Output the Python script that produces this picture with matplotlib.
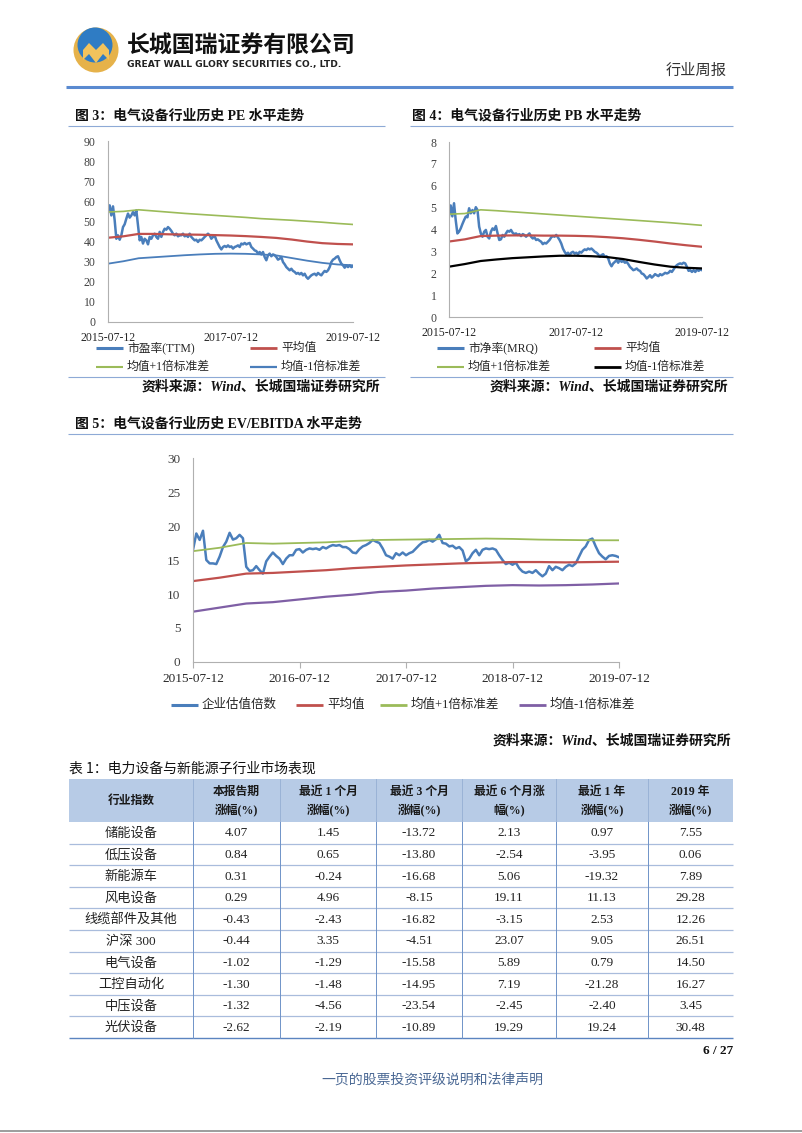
import numpy as np
import pandas as pd
import matplotlib
matplotlib.use("Agg")
import matplotlib.pyplot as plt
from matplotlib.patches import Rectangle, Circle, Polygon

# ---- data ----
START, END = "2015-07-12", "2019-07-12"

pe_ttm = [55.5, 58.0, 53.0, 57.5, 50.6, 41.4, 43.1, 40.9, 43.1, 47.2, 48.6, 51.4, 53.9, 51.9, 53.0, 54.7,
          53.0, 55.5, 48.1, 40.6, 42.3, 39.0, 41.4, 40.6, 38.6, 42.3, 41.4, 43.1, 43.9, 42.3, 41.4, 44.8,
          42.3, 44.8, 46.4, 45.9, 47.2, 46.4, 45.3, 43.9, 43.1, 43.9, 42.6, 43.1, 43.1, 43.9, 42.6, 43.1,
          42.3, 43.9, 42.3, 41.4, 40.6, 40.9, 39.8, 40.9, 40.6, 41.4, 42.3, 43.1, 43.9, 43.1, 41.4, 42.3,
          43.1, 40.6, 39.0, 37.3, 36.1, 37.3, 37.8, 37.3, 38.1, 37.3, 37.6, 36.5, 37.3, 37.6, 38.1, 37.3,
          39.0, 38.6, 39.3, 38.6, 39.0, 39.3, 37.3, 36.5, 35.6, 35.3, 34.0, 34.8, 33.6, 34.8, 32.3, 30.7,
          33.2, 34.0, 32.7, 33.6, 33.2, 32.3, 31.0, 31.5, 32.3, 29.8, 28.7, 27.3, 26.5, 25.7, 26.5, 25.4,
          24.9, 24.0, 24.4, 23.7, 24.4, 23.2, 24.0, 22.4, 21.5, 22.4, 23.2, 23.7, 24.0, 23.2, 24.4, 23.7,
          23.2, 24.4, 25.4, 24.9, 25.7, 27.3, 29.8, 31.0, 31.5, 32.3, 32.7, 30.7, 29.0, 28.2, 27.0, 28.2,
          27.3, 28.2, 27.3, 27.7]
pe_up = [54.7, 55.0, 55.8, 55.2, 54.6, 54.0, 53.5, 53.0, 52.5, 52.0, 51.4, 51.0, 50.6, 50.1, 49.6, 49.0, 48.5]
pe_mean = [41.9, 42.6, 43.8, 43.8, 43.6, 43.5, 43.4, 43.2, 43.0, 42.7, 42.3, 41.8, 41.0, 40.0, 39.2, 38.8, 38.6]
pe_low = [29.0, 30.2, 31.7, 32.2, 32.7, 33.2, 33.6, 33.9, 34.0, 33.9, 33.6, 33.1, 31.8, 30.5, 29.4, 28.6, 28.2]

pb_mrq = [4.6, 5.1, 4.6, 5.2, 4.43, 3.82, 3.9, 4.05, 4.25, 4.43, 4.59, 4.56, 4.97, 4.74, 4.89, 4.74,
          5.02, 4.89, 4.13, 3.82, 3.67, 3.9, 3.98, 3.67, 3.59, 3.9, 4.05, 3.98, 4.16, 3.82, 3.52, 3.55,
          3.75, 3.67, 3.82, 3.94, 3.9, 3.98, 3.85, 3.79, 3.82, 3.75, 3.79, 3.7, 3.79, 3.75, 3.67, 3.75,
          3.82, 3.67, 3.59, 3.64, 3.52, 3.55, 3.49, 3.44, 3.33, 3.39, 3.36, 3.44, 3.52, 3.64, 3.7, 3.67,
          3.75, 3.64, 3.52, 3.36, 3.13, 2.98, 2.87, 2.94, 2.83, 2.94, 2.98, 2.9, 2.94, 2.87, 2.98, 2.94,
          3.03, 3.09, 3.06, 3.13, 3.09, 3.13, 3.06, 2.98, 2.94, 2.87, 2.75, 2.83, 2.87, 2.75, 2.78, 2.68,
          2.45, 2.32, 2.45, 2.52, 2.6, 2.48, 2.63, 2.52, 2.57, 2.48, 2.52, 2.42, 2.29, 2.22, 2.14, 2.17,
          2.22, 2.14, 2.11, 1.99, 1.96, 1.87, 1.76, 1.83, 1.91, 1.8, 1.87, 1.96, 1.91, 1.87, 1.96, 1.91,
          1.96, 2.02, 1.99, 2.02, 2.11, 2.06, 2.17, 2.29, 2.37, 2.42, 2.45, 2.42, 2.48, 2.45, 2.29, 2.11,
          2.14, 2.06, 2.14, 2.06, 2.17, 2.11, 2.17, 2.14]
pb_up = [4.70, 4.73, 4.90, 4.86, 4.81, 4.76, 4.71, 4.66, 4.61, 4.56, 4.51, 4.46, 4.41, 4.36, 4.31, 4.25, 4.19]
pb_mean = [3.45, 3.55, 3.70, 3.72, 3.73, 3.73, 3.72, 3.72, 3.71, 3.69, 3.65, 3.60, 3.53, 3.45, 3.36, 3.28, 3.21]
pb_low = [2.30, 2.42, 2.56, 2.63, 2.69, 2.73, 2.77, 2.80, 2.80, 2.78, 2.74, 2.65, 2.52, 2.40, 2.30, 2.25, 2.22]

ev_ebitda = [16.5, 18.9, 17.95, 19.3, 15.0, 14.5, 14.5, 14.4, 15.5, 16.9, 17.7, 19.0, 18.0, 18.2, 18.7, 18.2,
             14.0, 13.4, 13.5, 14.1, 13.5, 13.0, 14.8, 15.5, 16.1, 15.6, 15.2, 14.4, 15.2, 15.7, 15.7, 16.5,
             16.6, 16.1, 16.5, 16.7, 16.6, 16.7, 16.5, 16.9, 16.7, 17.0, 17.2, 17.1, 17.2, 16.9, 16.9, 16.6,
             16.1, 16.0, 16.6, 17.0, 17.2, 17.5, 17.95, 17.7, 17.5, 16.7, 15.7, 15.5, 15.2, 16.0, 15.7, 16.1,
             15.7, 16.0, 16.2, 16.7, 17.2, 17.6, 17.7, 17.95, 17.7, 18.05, 18.7, 17.5, 17.4, 17.0, 17.1, 16.7,
             16.9, 16.4, 14.8, 15.2, 16.0, 16.5, 15.7, 16.5, 16.7, 16.6, 16.7, 16.5, 15.7, 15.0, 14.4, 14.6,
             14.3, 14.6, 13.8, 13.3, 13.1, 13.3, 13.1, 13.5, 13.0, 12.6, 13.0, 14.1, 13.5, 14.0, 13.8, 13.5,
             14.0, 14.3, 14.1, 14.5, 15.5, 16.5, 17.0, 17.95, 18.15, 17.0, 16.0, 15.5, 15.1, 15.6, 15.7, 15.6,
             15.4]
ev_up = [16.3, 16.8, 17.5, 17.4, 17.5, 17.6, 17.8, 17.95, 18.0, 18.05, 18.1, 18.15, 18.1, 18.0, 17.95, 17.9, 17.9]
ev_mean = [11.9, 12.4, 13.0, 13.1, 13.3, 13.5, 13.8, 14.0, 14.2, 14.35, 14.5, 14.6, 14.7, 14.7, 14.65, 14.7, 14.75]
ev_low = [7.4, 8.0, 8.6, 8.8, 9.2, 9.6, 9.9, 10.3, 10.5, 10.8, 11.0, 11.2, 11.3, 11.25, 11.3, 11.4, 11.55]

table_header = ["行业指数", "本报告期\n涨幅(%)", "最近 1 个月\n涨幅(%)", "最近 3 个月\n涨幅(%)",
                "最近 6 个月涨\n幅(%)", "最近 1 年\n涨幅(%)", "2019 年\n涨幅(%)"]
sectors = ["储能设备", "低压设备", "新能源车", "风电设备", "线缆部件及其他", "沪深 300",
           "电气设备", "工控自动化", "中压设备", "光伏设备"]
chg_week = ["4.07", "0.84", "0.31", "0.29", "-0.43", "-0.44", "-1.02", "-1.30", "-1.32", "-2.62"]
chg_1m = ["1.45", "0.65", "-0.24", "4.96", "-2.43", "3.35", "-1.29", "-1.48", "-4.56", "-2.19"]
chg_3m = ["-13.72", "-13.80", "-16.68", "-8.15", "-16.82", "-4.51", "-15.58", "-14.95", "-23.54", "-10.89"]
chg_6m = ["2.13", "-2.54", "5.06", "19.11", "-3.15", "23.07", "5.89", "7.19", "-2.45", "19.29"]
chg_1y = ["0.97", "-3.95", "-19.32", "11.13", "2.53", "9.05", "0.79", "-21.28", "-2.40", "19.24"]
chg_ytd = ["7.55", "0.06", "7.89", "29.28", "12.26", "26.51", "14.50", "16.27", "3.45", "30.48"]

# ---- style ----
SERIF = ['Liberation Serif', 'Noto Sans CJK SC']
SANS = ['Noto Sans CJK SC', 'DejaVu Sans']
plt.rcParams['font.family'] = SERIF

BLUE, RED, GREEN, PURPLE = '#4a7ebb', '#c0504d', '#9bbb59', '#7f5fa5'
LINE = '#8eaad6'

W, H = 802, 1133
fig = plt.figure(figsize=(W / 100, H / 100), dpi=100)
bg = fig.add_axes([0, 0, 1, 1])
bg.set_xlim(0, W)
bg.set_ylim(H, 0)
bg.axis('off')


def axes_px(l, t, r, b):
    return fig.add_axes([l / W, 1 - b / H, (r - l) / W, (b - t) / H])


def hline(x0, x1, y, color=LINE, lw=0.8):
    bg.plot([x0, x1], [y, y], color=color, lw=lw, solid_capstyle='butt')


def draw_chart(box, lines, ylim, yticks, xticks, fs, tick_len=0):
    ax = axes_px(*box)
    ax.patch.set_alpha(0)
    for vals, color, lw in lines:
        dates = pd.date_range(START, END, periods=len(vals))
        ax.plot(dates, vals, color=color, lw=lw)
    ax.set_xlim(pd.Timestamp(START), pd.Timestamp(END))
    ax.set_ylim(*ylim)
    ax.set_yticks(yticks)
    ax.set_xticks([pd.Timestamp(d) for d in xticks])
    ax.set_xticklabels(xticks)
    for s in ['top', 'right']:
        ax.spines[s].set_visible(False)
    for s in ['left', 'bottom']:
        ax.spines[s].set_color('#b0b0b0')
        ax.spines[s].set_linewidth(0.8)
    ax.tick_params(axis='y', length=0, pad=9, labelsize=fs, labelcolor='#404040')
    ax.tick_params(axis='x', length=tick_len, pad=7 - tick_len * 0.7, labelsize=fs,
                   labelcolor='#262626', color='#b0b0b0')
    return ax


def legend_item(x, y, color, label, lw=1.6, fs=8.5):
    bg.plot([x, x + 27], [y, y], color=color, lw=lw, solid_capstyle='butt')
    bg.text(x + 31, y, label, fontsize=fs, va='center', ha='left', color='#262626')


# ---- header ----
bg.add_patch(Circle((96, 50), 22.5, fc='#e6b24a', ec='none'))
bg.add_patch(Circle((95, 45), 17.5, fc='#2f7cc4', ec='none'))
bg.add_patch(Polygon([(83, 50), (89, 43), (96, 50), (103, 43), (109, 50), (109, 60), (103, 54),
                      (96, 63), (89, 54), (83, 60)], closed=True, fc='#f2c35c', ec='none'))
bg.text(127, 46, '长城国瑞证券有限公司', fontsize=16.5, fontweight='heavy', family=SANS,
        va='center', ha='left', color='#111111')
bg.text(127, 64, 'GREAT WALL GLORY SECURITIES CO., LTD.', fontsize=6.6, fontweight='bold',
        family='DejaVu Sans', va='center', ha='left', color='#222222')
bg.text(727, 70, '行业周报', fontsize=11, family=SANS, va='center', ha='right', color='#333333')
hline(66, 733, 87, color='#5a8ad0', lw=2.2)

# ---- figure 3 / 4 ----
title_kw = dict(fontsize=10, fontweight='bold', va='center', ha='left', color='#111111')
bg.text(75, 116, '图 3：电气设备行业历史 PE 水平走势', **title_kw)
bg.text(412, 116, '图 4：电气设备行业历史 PB 水平走势', **title_kw)
hline(68, 385, 126)
hline(410, 733, 126)

draw_chart((108, 141, 353, 322),
           [(pe_ttm, BLUE, 1.8), (pe_mean, RED, 1.6), (pe_up, GREEN, 1.2), (pe_low, BLUE, 1.3)],
           (0, 90), range(0, 91, 10), ["2015-07-12", "2017-07-12", "2019-07-12"], 8.5)
draw_chart((449, 142, 702, 317),
           [(pb_mrq, BLUE, 1.8), (pb_mean, RED, 1.6), (pb_up, GREEN, 1.2), (pb_low, '#000000', 1.6)],
           (0, 8), range(0, 9), ["2015-07-12", "2017-07-12", "2019-07-12"], 8.5)

legend_item(96, 348, BLUE, '市盈率(TTM)', lw=2.2)
legend_item(250, 348, RED, '平均值', lw=2)
legend_item(96, 367, GREEN, '均值+1倍标准差', lw=1.5)
legend_item(250, 367, BLUE, '均值-1倍标准差', lw=1.6)
legend_item(437, 348, BLUE, '市净率(MRQ)', lw=2.2)
legend_item(594, 348, RED, '平均值', lw=2)
legend_item(437, 367, GREEN, '均值+1倍标准差', lw=1.5)
legend_item(594, 367, '#000000', '均值-1倍标准差', lw=2)

hline(68, 385, 377)
hline(410, 733, 377)
src = '资料来源：Wind、长城国瑞证券研究所'
src_kw = dict(fontsize=10, fontstyle='italic', fontweight='bold', va='center', ha='right', color='#111111')
bg.text(380, 387, src, **src_kw)
bg.text(728, 387, src, **src_kw)

# ---- figure 5 ----
bg.text(75, 424, '图 5：电气设备行业历史 EV/EBITDA 水平走势', **title_kw)
hline(68, 733, 434)
draw_chart((193, 458, 619, 662),
           [(ev_ebitda, BLUE, 1.8), (ev_mean, RED, 1.6), (ev_up, GREEN, 1.3), (ev_low, PURPLE, 1.6)],
           (0, 30), range(0, 31, 5),
           ["2015-07-12", "2016-07-12", "2017-07-12", "2018-07-12", "2019-07-12"], 9.5, tick_len=4)
legend_item(171, 705, BLUE, '企业估值倍数', lw=2.2, fs=9)
legend_item(296, 705, RED, '平均值', lw=2, fs=9)
legend_item(380, 705, GREEN, '均值+1倍标准差', lw=2, fs=9)
legend_item(519, 705, PURPLE, '均值-1倍标准差', lw=2, fs=9)
bg.text(731, 741, src, **src_kw)

# ---- table 1 ----
bg.text(69, 769, '表 1：电力设备与新能源子行业市场表现', fontsize=10, fontweight='medium',
        family=SANS, va='center', ha='left', color='#111111')
col_x = [69, 193, 280, 376, 462, 556, 648, 733]
head_top, head_bot, row_h = 779, 822, 21.6
bg.add_patch(Rectangle((col_x[0], head_top), col_x[-1] - col_x[0], head_bot - head_top,
                       fc='#b7cbe6', ec='none'))
for j, lab in enumerate(table_header):
    xc = (col_x[j] + col_x[j + 1]) / 2
    parts = lab.split('\n')
    if len(parts) == 1:
        bg.text(xc, (head_top + head_bot) / 2, parts[0], fontsize=8.5, fontweight='bold',
                ha='center', va='center', color='#1a1a1a')
    else:
        bg.text(xc, 792, parts[0], fontsize=8.5, fontweight='bold', ha='center', va='center', color='#1a1a1a')
        bg.text(xc, 810, parts[1], fontsize=8.5, fontweight='bold', ha='center', va='center', color='#1a1a1a')

columns = [sectors, chg_week, chg_1m, chg_3m, chg_6m, chg_1y, chg_ytd]
n_rows = len(sectors)
for i in range(n_rows):
    yc = head_bot + row_h * (i + 0.5)
    for j, col in enumerate(columns):
        xc = (col_x[j] + col_x[j + 1]) / 2
        bg.text(xc, yc + 0.5, col[i], fontsize=9.5, ha='center', va='center', color='#222222')
    yb = head_bot + row_h * (i + 1)
    if i < n_rows - 1:
        hline(col_x[0], col_x[-1], yb, color='#a9bcdc', lw=0.9)
    else:
        hline(col_x[0], col_x[-1], yb, color='#5b84c0', lw=1.0)
table_bot = head_bot + row_h * n_rows
for x in col_x[1:-1]:
    bg.plot([x, x], [head_top, head_bot], color='#9ab3d6', lw=0.7)
    bg.plot([x, x], [head_bot, table_bot], color='#6f93c8', lw=0.7)

# ---- footer ----
bg.text(733, 1051, '6 / 27', fontsize=9.5, fontweight='bold', family='Liberation Serif',
        ha='right', va='center', color='#111111')
bg.text(432, 1080, '一页的股票投资评级说明和法律声明', fontsize=10, family=SANS,
        ha='center', va='center', color='#4a6894')
hline(0, W, 1131, color='#8c8c8c', lw=1.2)

fig.savefig('out.png', dpi=100)
